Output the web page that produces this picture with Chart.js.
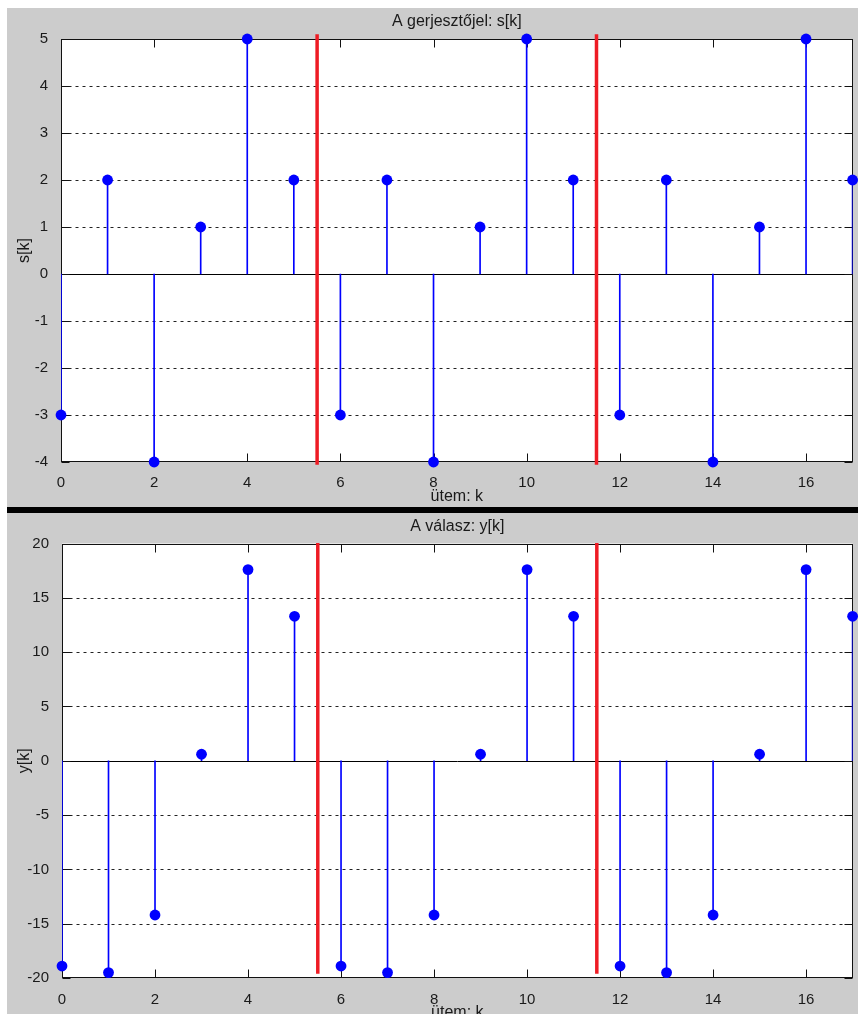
<!DOCTYPE html>
<html><head><meta charset="utf-8">
<script src="https://cdn.jsdelivr.net/npm/chart.js@4.4.0/dist/chart.umd.min.js"></script>
<style>
html,body{margin:0;padding:0;background:#fff;overflow:hidden;width:860px;height:1014px;}
.panel{position:absolute;left:7px;width:851px;background:#cccccc;}
#p1{top:8px;height:499px;}
#sep{position:absolute;left:7px;top:507px;width:851px;height:6px;background:#000;}
#p2{top:513px;height:509px;}
canvas{display:block;}
</style></head><body>
<div class="panel" id="p1"><canvas id="c1" width="851" height="499"></canvas></div>
<div id="sep"></div>
<div class="panel" id="p2"><canvas id="c2" width="851" height="509"></canvas></div>
<script>
// ---- data ----
const kValues = [0,1,2,3,4,5,6,7,8,9,10,11,12,13,14,15,16,17];
const sValues = [-3,2,-4,1,5,2,-3,2,-4,1,5,2,-3,2,-4,1,5,2];
const yValues = [-18.9,-19.5,-14.2,0.6,17.6,13.3,-18.9,-19.5,-14.2,0.6,17.6,13.3,-18.9,-19.5,-14.2,0.6,17.6,13.3];
const xTickValues = [0,2,4,6,8,10,12,14,16];
const sTickValues = [-4,-3,-2,-1,0,1,2,3,4,5];
const yTickValues = [-20,-15,-10,-5,0,5,10,15,20];
const separatorK = [5.5, 11.5];
const sSeparatorRange = [-4.06, 5.1];
const ySeparatorRange = [-19.6, 20.05];
const topTitle = 'A gerjesztőjel: s[k]';
const bottomTitle = 'A válasz: y[k]';
const xTitle = 'ütem: k';

Chart.defaults.font.family = "'Liberation Sans', Arial, sans-serif";
const TXT = '#1a1a1a';

const framePlugin = {
  id: 'frame',
  beforeDatasetsDraw(chart) {
    const {ctx, chartArea: a, scales: {x, y}} = chart;
    const L = Math.round(a.left) + 0.5, R = Math.round(a.right) - 0.5;
    const T = Math.round(a.top) + 0.5, B = Math.round(a.bottom) - 0.5;
    ctx.save();
    ctx.fillStyle = '#ffffff';
    ctx.fillRect(a.left, a.top, a.right - a.left, a.bottom - a.top);
    ctx.lineWidth = 1;
    ctx.strokeStyle = '#222';
    ctx.setLineDash([3, 4]);
    y.ticks.forEach(t => {
      if (t.value === 0 || t.value === y.min || t.value === y.max) return;
      const py = Math.round(y.getPixelForValue(t.value)) + 0.5;
      ctx.beginPath(); ctx.moveTo(L, py); ctx.lineTo(R, py); ctx.stroke();
    });
    ctx.setLineDash([]);
    ctx.strokeStyle = '#000';
    const z = Math.round(y.getPixelForValue(0)) + 0.5;
    ctx.beginPath(); ctx.moveTo(L, z); ctx.lineTo(R, z); ctx.stroke();
    ctx.strokeStyle = '#111';
    x.ticks.forEach(t => {
      const px = Math.round(x.getPixelForValue(t.value)) + 0.5;
      ctx.beginPath();
      ctx.moveTo(px, T); ctx.lineTo(px, T + 8);
      ctx.moveTo(px, B); ctx.lineTo(px, B - 8);
      ctx.stroke();
    });
    y.ticks.forEach(t => {
      const py = Math.round(y.getPixelForValue(t.value)) + 0.5;
      ctx.beginPath();
      ctx.moveTo(L, py); ctx.lineTo(L + 8, py);
      ctx.moveTo(R, py); ctx.lineTo(R - 8, py);
      ctx.stroke();
    });
    ctx.strokeRect(L, T, R - L, B - T);
    ctx.restore();
  }
};

function makeChart(id, values, tickValues, sepRange, yTitle, title, p) {
  return new Chart(document.getElementById(id), {
    type: 'bar',
    data: {
      datasets: [
        {
          type: 'bar',
          data: kValues.map((kk, i) => ({x: kk, y: [0, values[i]]})),
          backgroundColor: '#0000ff',
          barThickness: 1,
          grouped: false,
          order: 3
        },
        {
          type: 'line',
          data: kValues.map((kk, i) => ({x: kk, y: values[i]})),
          showLine: false,
          pointRadius: 5.4,
          pointBackgroundColor: '#0000ff',
          pointBorderColor: '#0000ff',
          pointBorderWidth: 0,
          clip: false,
          order: 1
        },
        ...separatorK.map(s => ({
          type: 'line',
          data: [{x: s, y: sepRange[0]}, {x: s, y: sepRange[1]}],
          borderColor: '#ee1c24',
          borderWidth: 3.5,
          pointRadius: 0,
          clip: false,
          order: 2
        }))
      ]
    },
    options: {
      responsive: false,
      animation: false,
      devicePixelRatio: 1,
      layout: {padding: {left: 0, right: p.right, top: 0, bottom: 0}},
      plugins: {
        legend: {display: false},
        tooltip: {enabled: false},
        title: {
          display: true, text: title, color: TXT, fullSize: false,
          font: {size: 16, weight: 'normal'},
          padding: {top: 4.4, bottom: p.titleBottom}
        }
      },
      scales: {
        x: {
          type: 'linear', min: 0, max: 17, offset: false,
          afterBuildTicks: s => { s.ticks = xTickValues.map(v => ({value: v})); },
          afterFit: s => { s.height = p.xh; },
          grid: {display: false},
          border: {display: false},
          ticks: {padding: p.xpad, color: TXT, font: {size: 15}, maxRotation: 0, autoSkip: false},
          title: {display: true, text: xTitle, color: TXT, font: {size: 16}, padding: {top: 0, bottom: p.xtb}}
        },
        y: {
          type: 'linear', min: tickValues[0], max: tickValues[tickValues.length - 1],
          afterBuildTicks: s => { s.ticks = tickValues.map(v => ({value: v})); },
          afterFit: s => { s.width = p.yw; },
          grid: {display: false},
          border: {display: false},
          ticks: {padding: 5, color: TXT, font: {size: 15}, autoSkip: false},
          title: {display: true, text: yTitle, color: TXT, font: {size: 16}, padding: {top: 8.4, bottom: 0}}
        }
      }
    },
    plugins: [framePlugin]
  });
}

makeChart('c1', sValues, sTickValues, sSeparatorRange, 's[k]', topTitle,
  {right: 3, titleBottom: 7.4, xh: 45, xpad: 4, xtb: 1, yw: 54});
makeChart('c2', yValues, yTickValues, ySeparatorRange, 'y[k]', bottomTitle,
  {right: 2, titleBottom: 6.9, xh: 44, xpad: 5, xtb: 0, yw: 55});
</script>
</body></html>
